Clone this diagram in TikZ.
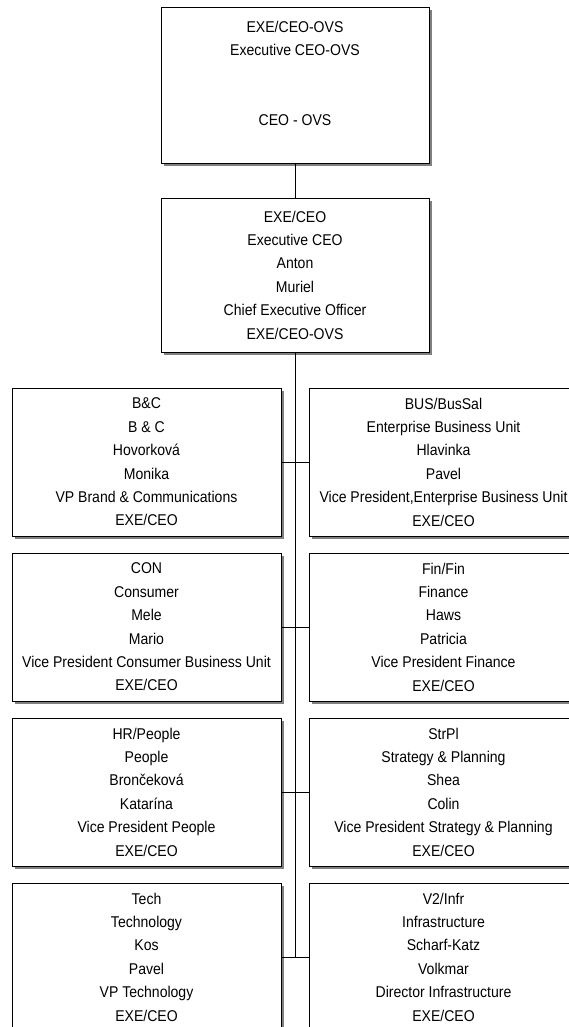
\documentclass[tikz,border=0pt]{standalone}
\usepackage{fontspec}
\setmainfont[FakeStretch=0.9]{Liberation Sans}
\usetikzlibrary{shadows}
\definecolor{ink}{HTML}{000000}
\definecolor{shade}{HTML}{808080}
\tikzset{unit/.style={draw=ink,fill=white,line width=.8pt,align=center,inner sep=0pt,
  minimum width=269pt,minimum height=148pt,font=\fontsize{15.6}{23.4}\selectfont,
  drop shadow={shadow xshift=3pt,shadow yshift=-3pt,fill=shade,opacity=1}},
  link/.style={line width=.8pt,draw=ink}}

\begin{document}
\begin{tikzpicture}[x=1pt,y=-1pt]
\useasboundingbox (0,0) rectangle (568,1027);
% top of the chart
\node[unit,minimum width=268pt,minimum height=156pt] (ovs) at (295,85)
 {EXE/CEO-OVS\\Executive CEO-OVS\\\mbox{}\\\mbox{}\\CEO - OVS\\\mbox{}};
\node[unit,minimum width=268pt,minimum height=154pt] (ceo) at (295,275)
 {EXE/CEO\\Executive CEO\\Anton\\Muriel\\Chief Executive Officer\\EXE/CEO-OVS};
% left column
\node[unit] (bc) at (146.5,462)
 {B\&C\\B \& C\\Hovorková\\Monika\\VP Brand \& Communications\\EXE/CEO};
\node[unit] (con) at (146.5,627)
 {CON\\Consumer\\Mele\\Mario\\Vice President Consumer Business Unit\\EXE/CEO};
\node[unit] (hr) at (146.5,792)
 {HR/People\\People\\Brončeková\\Katarína\\Vice President People\\EXE/CEO};
\node[unit] (tech) at (146.5,957)
 {Tech\\Technology\\Kos\\Pavel\\VP Technology\\EXE/CEO};
% right column
\node[unit] (bus) at (443.5,462)
 {BUS/BusSal\\Enterprise Business Unit\\Hlavinka\\Pavel\\Vice President,Enterprise Business Unit\\EXE/CEO};
\node[unit] (fin) at (443.5,627)
 {Fin/Fin\\Finance\\Haws\\Patricia\\Vice President Finance\\EXE/CEO};
\node[unit] (str) at (443.5,792)
 {StrPl\\Strategy \& Planning\\Shea\\Colin\\Vice President Strategy \& Planning\\EXE/CEO};
\node[unit] (infr) at (443.5,957)
 {V2/Infr\\Infrastructure\\Scharf-Katz\\Volkmar\\Director Infrastructure\\EXE/CEO};
% lines
\draw[link] (ovs.south) -- (ceo.north);
\draw[link] (ceo.south) -- (ceo.south |- tech.east);
\foreach \l/\r in {bc/bus,con/fin,hr/str,tech/infr}
 \draw[link] (\l.east) -- (\r.west);
\end{tikzpicture}
\end{document}
